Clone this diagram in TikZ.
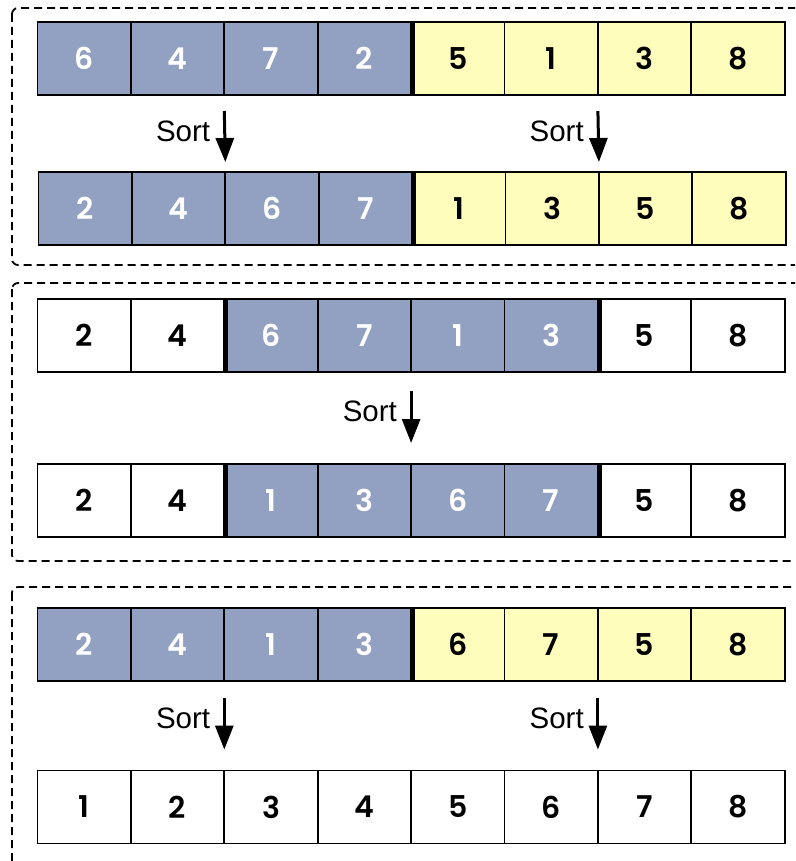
\documentclass[tikz,border=0pt]{standalone}
\usepackage{fontspec}
\setmainfont{Liberation Sans}
\newfontfamily\numfont{Poppins SemiBold}
\usetikzlibrary{arrows.meta}
\definecolor{cellblue}{RGB}{146,160,193}
\definecolor{cellyellow}{RGB}{255,253,187}
\begin{document}
\begin{tikzpicture}[x=1pt,y=-1pt,
  cell/.style={draw=black,line width=1.8pt,minimum width=93.4pt,minimum height=73pt,
    inner sep=0pt,outer sep=0pt,font=\numfont\fontsize{30}{30}\selectfont},
  bluecell/.style={cell,fill=cellblue,text=white},
  yelcell/.style={cell,fill=cellyellow,text=black},
  whtcell/.style={cell,fill=white,text=black},
  sepline/.style={line width=4.5pt},
  sortarrow/.style={line width=3pt,-{Triangle[length=24pt,width=18pt]}},
  sortlbl/.style={anchor=east,inner sep=0pt,font=\fontsize{29.5}{29.5}\selectfont},
  groupbox/.style={draw=black,line width=1.8pt,dash pattern=on 8pt off 5pt,rounded corners=6pt}
]
\useasboundingbox (0,0) rectangle (795,861);
\clip (0,0) rectangle (795,861);

% group boxes
\draw[groupbox] (12,8) rectangle (830,265);
\draw[groupbox] (12,283) rectangle (830,561);
\draw[groupbox] (12,587) rectangle (830,900);

% rows
\foreach \i/\v/\s in {1/6/bluecell,2/4/bluecell,3/7/bluecell,4/2/bluecell,5/5/yelcell,6/1/yelcell,7/3/yelcell,8/8/yelcell}
  \node[\s] (ra\i) at ({37.5+93.4*(\i-0.5)},58.5) {\v};
\foreach \i/\v/\s in {1/2/bluecell,2/4/bluecell,3/6/bluecell,4/7/bluecell,5/1/yelcell,6/3/yelcell,7/5/yelcell,8/8/yelcell}
  \node[\s] (rb\i) at ({38.5+93.4*(\i-0.5)},208.5) {\v};
\foreach \i/\v/\s in {1/2/whtcell,2/4/whtcell,3/6/bluecell,4/7/bluecell,5/1/bluecell,6/3/bluecell,7/5/whtcell,8/8/whtcell}
  \node[\s] (rc\i) at ({37.5+93.4*(\i-0.5)},335.5) {\v};
\foreach \i/\v/\s in {1/2/whtcell,2/4/whtcell,3/1/bluecell,4/3/bluecell,5/6/bluecell,6/7/bluecell,7/5/whtcell,8/8/whtcell}
  \node[\s] (rd\i) at ({37.5+93.4*(\i-0.5)},500.5) {\v};
\foreach \i/\v/\s in {1/2/bluecell,2/4/bluecell,3/1/bluecell,4/3/bluecell,5/6/yelcell,6/7/yelcell,7/5/yelcell,8/8/yelcell}
  \node[\s] (re\i) at ({37.5+93.4*(\i-0.5)},644.5) {\v};
\foreach \i/\v in {1/1,2/2,3/3,4/4,5/5,6/6,7/7,8/8}
  \node[whtcell] (rf\i) at ({37.5+93.4*(\i-0.5)},807) {\v};

% thick separators
\draw[sepline] ([xshift=1.5pt]ra4.north east) -- ([xshift=1.5pt]ra4.south east);
\draw[sepline] ([xshift=1.5pt]rb4.north east) -- ([xshift=1.5pt]rb4.south east);
\draw[sepline] ([xshift=1.5pt]rc2.north east) -- ([xshift=1.5pt]rc2.south east);
\draw[sepline] ([xshift=1.5pt]rc6.north east) -- ([xshift=1.5pt]rc6.south east);
\draw[sepline] ([xshift=1.5pt]rd2.north east) -- ([xshift=1.5pt]rd2.south east);
\draw[sepline] ([xshift=1.5pt]rd6.north east) -- ([xshift=1.5pt]rd6.south east);
\draw[sepline] ([xshift=1.5pt]re4.north east) -- ([xshift=1.5pt]re4.south east);

% sort arrows
\draw[sortarrow] ([yshift=-16pt]ra2.south east) -- ([yshift=10pt]rb2.north east);
\draw[sortarrow] ([yshift=-16pt]ra6.south east) -- ([yshift=10pt]rb6.north east);
\draw[sortarrow] ([yshift=-19pt]rc4.south east) -- ([yshift=21pt]rd4.north east);
\draw[sortarrow] ([yshift=-17pt]re2.south east) -- ([yshift=21pt]rf2.north east);
\draw[sortarrow] ([yshift=-17pt]re6.south east) -- ([yshift=21pt]rf6.north east);

% labels
\node[sortlbl] (l1) at ([xshift=-14pt,yshift=-36pt]ra2.south east) {Sort};
\node[sortlbl] (l2) at ([xshift=-14pt,yshift=-36pt]ra6.south east) {Sort};
\node[sortlbl] (l3) at ([xshift=-14pt,yshift=-39pt]rc4.south east) {Sort};
\node[sortlbl] (l4) at ([xshift=-14pt,yshift=-37pt]re2.south east) {Sort};
\node[sortlbl] (l5) at ([xshift=-14pt,yshift=-37pt]re6.south east) {Sort};
\end{tikzpicture}
\end{document}
